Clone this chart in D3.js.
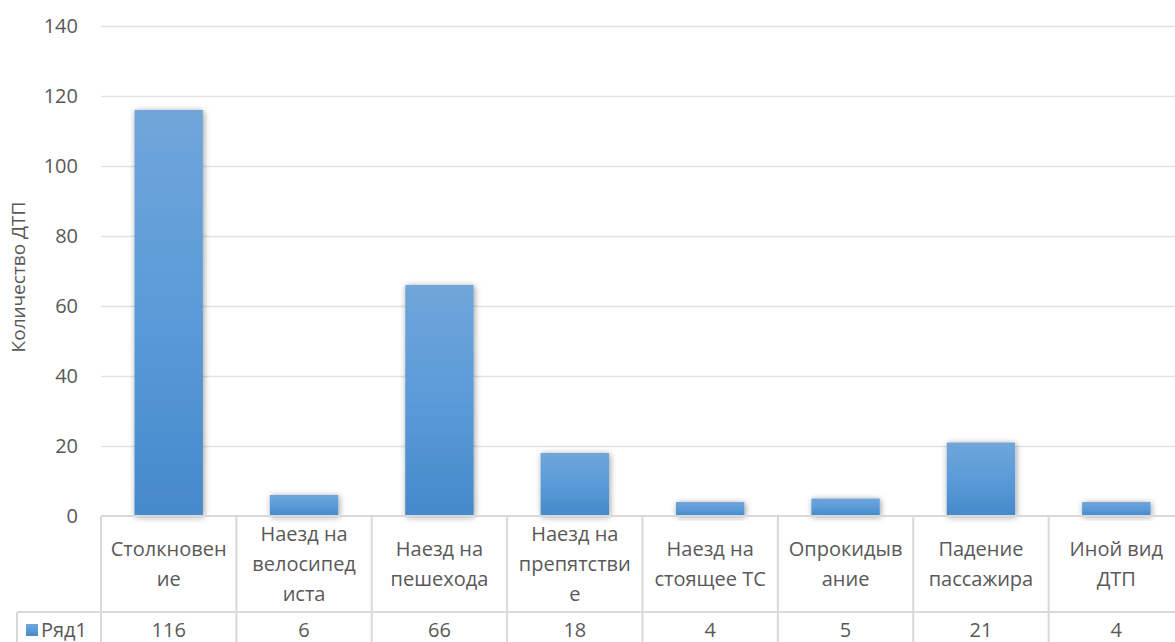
<!DOCTYPE html>
<html>
<head>
<meta charset="utf-8">
<script src="https://cdn.jsdelivr.net/npm/d3@7"></script>
<style>
  html, body { margin: 0; padding: 0; background: #fff; }
  svg { display: block; }
  text { font-family: "Open Sans", "Noto Sans", sans-serif; fill: #595959; }
</style>
</head>
<body>
<svg id="chart" width="1175" height="642"></svg>
<script>
// Виды ДТП (строки подписи разбиты так, как они переносятся в ячейках таблицы)
const categories = [
  ["Столкновен", "ие"],
  ["Наезд на", "велосипед", "иста"],
  ["Наезд на", "пешехода"],
  ["Наезд на", "препятстви", "е"],
  ["Наезд на", "стоящее ТС"],
  ["Опрокидыв", "ание"],
  ["Падение", "пассажира"],
  ["Иной вид", "ДТП"]
];
const seriesName = "Ряд1";
const values = [116, 6, 66, 18, 4, 5, 21, 4];
const yTicks = [0, 20, 40, 60, 80, 100, 120, 140];
const yTitle = "Количество ДТП";

const svg = d3.select("#chart");
const plotLeft = 101, plotRight = 1184, plotTop = 26, base = 516;
const catRowBottom = 612, dataRowBottom = 660;
const fs = 20;

const x = d3.scaleBand().domain(d3.range(values.length)).range([plotLeft, plotRight]).paddingInner(0).paddingOuter(0);
const y = d3.scaleLinear().domain([0, 140]).range([base, plotTop]);

const defs = svg.append("defs");
const grad = defs.append("linearGradient").attr("id", "barFill")
  .attr("x1", 0).attr("y1", 0).attr("x2", 0).attr("y2", 1);
grad.append("stop").attr("offset", "0%").attr("stop-color", "#70a6da");
grad.append("stop").attr("offset", "50%").attr("stop-color", "#5a9bd8");
grad.append("stop").attr("offset", "100%").attr("stop-color", "#4689c9");

const shadow = defs.append("filter").attr("id", "barShadow")
  .attr("x", "-30%").attr("y", "-30%").attr("width", "160%").attr("height", "160%");
shadow.append("feDropShadow").attr("dx", 1).attr("dy", 1).attr("stdDeviation", 3)
  .attr("flood-color", "#000").attr("flood-opacity", 0.4);

// Сетка и подписи оси Y
const yAxis = d3.axisLeft(y).tickValues(yTicks).tickSize(0).tickPadding(0);
const gy = svg.append("g").attr("transform", `translate(${plotLeft},0)`).call(yAxis);
gy.select(".domain").remove();
gy.selectAll("text").attr("x", -23).attr("dy", "0.3em").attr("font-size", fs).style("fill", "#595959")
  .attr("font-family", "Open Sans, Noto Sans, sans-serif");

svg.append("g").selectAll("line").data(yTicks.filter(d => d > 0)).join("line")
  .attr("x1", plotLeft).attr("x2", 1175)
  .attr("y1", d => Math.round(y(d)) + 0.5).attr("y2", d => Math.round(y(d)) + 0.5)
  .attr("stroke", "#e3e3e3").attr("stroke-width", 1.5);

svg.append("text")
  .attr("transform", `translate(25,${(plotTop + base) / 2 + 6}) rotate(-90)`)
  .attr("text-anchor", "middle").attr("font-size", 19)
  .text(yTitle);

// Столбцы
const bw = x.bandwidth() * 0.505;
svg.append("g").selectAll("rect").data(values).join("rect")
  .attr("x", (d, i) => x(i) + (x.bandwidth() - bw) / 2)
  .attr("y", d => y(d))
  .attr("width", bw)
  .attr("height", d => base - y(d))
  .attr("fill", "url(#barFill)")
  .attr("filter", "url(#barShadow)");

// Таблица данных
const lineColor = "#d9d9d9";
const tbl = svg.append("g").attr("stroke", lineColor).attr("stroke-width", 2);
tbl.append("line").attr("x1", plotLeft).attr("x2", 1175).attr("y1", base).attr("y2", base);
tbl.append("line").attr("x1", 17).attr("x2", 1175).attr("y1", catRowBottom).attr("y2", catRowBottom);
tbl.append("line").attr("x1", 17).attr("x2", 17).attr("y1", catRowBottom).attr("y2", dataRowBottom);
tbl.selectAll(".vline").data(d3.range(values.length + 1)).join("line")
  .attr("class", "vline")
  .attr("x1", i => i < values.length ? x(i) : plotRight)
  .attr("x2", i => i < values.length ? x(i) : plotRight)
  .attr("y1", base).attr("y2", dataRowBottom);

const lh = 30;
const catG = svg.append("g").selectAll("text").data(categories).join("text")
  .attr("text-anchor", "middle").attr("font-size", fs);
catG.each(function(lines, i) {
  const t = d3.select(this);
  const cy = (base + catRowBottom) / 2 + 7;
  const y0 = cy - (lines.length - 1) * lh / 2;
  lines.forEach((s, k) => {
    t.append("tspan").attr("x", x(i) + x.bandwidth() / 2).attr("y", y0 + k * lh).text(s);
  });
});

svg.append("g").selectAll("text").data(values).join("text")
  .attr("x", (d, i) => x(i) + x.bandwidth() / 2)
  .attr("y", 637).attr("text-anchor", "middle").attr("font-size", fs)
  .text(d => d);

// Легенда в строке ряда
svg.append("rect").attr("x", 26).attr("y", 624).attr("width", 12).attr("height", 12)
  .attr("fill", "url(#barFill)");
svg.append("text").attr("x", 41).attr("y", 637).attr("font-size", fs).text(seriesName);
</script>
</body>
</html>
